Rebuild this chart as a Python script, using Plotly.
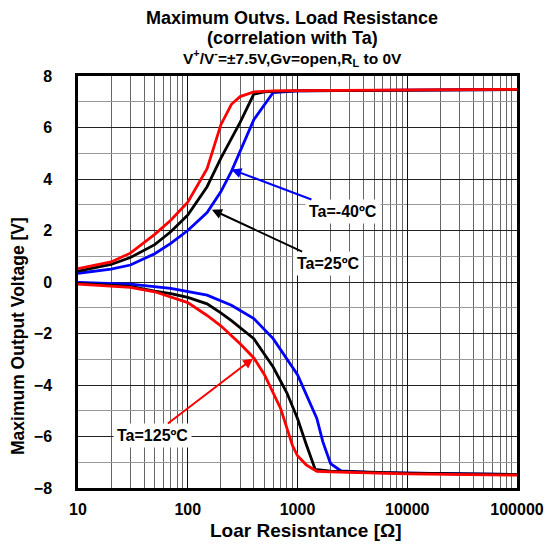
import numpy as np
import plotly.graph_objects as go

# Load resistance (ohm) and maximum output voltage (V) per ambient temperature
r_m40_hi = [10, 20, 30, 50, 70, 100, 150, 200, 250, 300, 400, 600, 1000, 10000, 100000]
v_m40_hi = [0.34, 0.5, 0.66, 1.1, 1.5, 2.0, 2.7, 3.5, 4.3, 5.1, 6.3, 7.36, 7.42, 7.45, 7.47]
r_25_hi = [10, 20, 30, 50, 70, 100, 150, 200, 300, 400, 500, 600, 1000, 10000, 100000]
v_25_hi = [0.42, 0.68, 0.95, 1.45, 1.95, 2.6, 3.7, 4.8, 6.2, 7.3, 7.38, 7.4, 7.42, 7.45, 7.47]
r_125_hi = [10, 20, 30, 50, 70, 100, 150, 200, 250, 300, 400, 600, 1000, 10000, 100000]
v_125_hi = [0.52, 0.78, 1.12, 1.85, 2.4, 3.1, 4.4, 6.1, 6.9, 7.2, 7.38, 7.42, 7.43, 7.46, 7.48]

r_m40_lo = [10, 30, 70, 150, 250, 400, 600, 1000, 1500, 1700, 2000, 2500, 5000, 100000]
v_m40_lo = [-0.02, -0.08, -0.25, -0.51, -0.9, -1.42, -2.2, -3.6, -5.3, -6.2, -7.05, -7.34, -7.4, -7.48]
r_25_lo = [10, 30, 50, 70, 100, 150, 200, 250, 400, 600, 800, 1000, 1200, 1450, 2000, 10000, 100000]
v_25_lo = [-0.05, -0.17, -0.35, -0.45, -0.6, -0.85, -1.2, -1.5, -2.2, -3.3, -4.3, -5.3, -6.3, -7.28, -7.35, -7.42, -7.48]
r_125_lo = [10, 20, 30, 50, 70, 100, 150, 200, 300, 400, 500, 700, 900, 1000, 1200, 1500, 2000, 10000, 100000]
v_125_lo = [-0.08, -0.15, -0.21, -0.38, -0.58, -0.8, -1.3, -1.7, -2.4, -2.95, -3.6, -4.9, -6.35, -6.75, -7.1, -7.35, -7.37, -7.45, -7.5]

x_ticks = [10, 100, 1000, 10000, 100000]
y_ticks = [8, 6, 4, 2, 0, -2, -4, -6, -8]

FONT = "Liberation Sans, Arial, sans-serif"

fig = go.Figure()
series = [
    (r_m40_hi, v_m40_hi, "#0000ff"), (r_m40_lo, v_m40_lo, "#0000ff"),
    (r_25_hi, v_25_hi, "#000000"), (r_25_lo, v_25_lo, "#000000"),
    (r_125_hi, v_125_hi, "#ff0000"), (r_125_lo, v_125_lo, "#ff0000"),
]
for xs, ys, col in series:
    fig.add_trace(go.Scatter(x=xs, y=ys, mode="lines",
                             line=dict(color=col, width=2.8), showlegend=False,
                             hoverinfo="skip"))

fig.update_xaxes(
    type="log", range=[1, 5], tickvals=x_ticks, ticktext=[str(v) for v in x_ticks],
    showgrid=True, gridcolor="#111111", gridwidth=1.2,
    minor=dict(showgrid=True, gridcolor="#666666", gridwidth=1, dtick="D1", ticks=""),
    showline=True, linecolor="black", linewidth=2.5, mirror=True,
    ticks="", tickfont=dict(family=FONT, size=16, color="black", weight="bold"),
    ticklabelstandoff=5, zeroline=False, automargin=False,
)
fig.update_yaxes(
    range=[-8, 8], tickvals=y_ticks, ticktext=[str(v).replace("-", "−") for v in y_ticks],
    showgrid=True, gridcolor="#222222", gridwidth=1.2,
    minor=dict(showgrid=True, gridcolor="#999999", gridwidth=1.2, dtick=1, ticks=""),
    showline=True, linecolor="black", linewidth=2.5, mirror=True,
    ticks="", tickfont=dict(family=FONT, size=16, color="black", weight="bold"),
    ticklabelstandoff=20, zeroline=False, automargin=False,
)

annots = []
# title block
title_lines = [
    ("<b>Maximum Outvs. Load Resistance</b>", 18, 18),
    ("<b>(correlation with Ta)</b>", 18, 38),
    ("<b>V<sup>+</sup>/V<sup>-</sup>=±7.5V,Gv=open,R<sub>L</sub> to 0V</b>", 15.5, 58),
]
for txt, sz, py in title_lines:
    annots.append(dict(text=txt, xref="paper", yref="paper", x=0.488, y=(488 - py) / 412,
                       showarrow=False, xanchor="center", yanchor="middle",
                       font=dict(family=FONT, size=sz, color="black")))
# axis titles
annots.append(dict(text="<b>Maximum Output Voltage [V]</b>", xref="paper", yref="paper",
                   x=(18 - 78) / 439, y=(488 - 336) / 412, textangle=-90, showarrow=False,
                   xanchor="center", yanchor="middle",
                   font=dict(family=FONT, size=17.5, color="black")))
annots.append(dict(text="<b>Loar Resisntance [Ω]</b>", xref="paper", yref="paper",
                   x=(306 - 78) / 439, y=(488 - 530) / 412, showarrow=False,
                   xanchor="center", yanchor="middle",
                   font=dict(family=FONT, size=19, color="black")))
# temperature labels with arrows
labels = [
    ("Ta=-40ºC", 250, 4.37, 112, 42, "#0000ff"),
    ("Ta=25ºC", 166, 2.81, 116, 54, "#000000"),
    ("Ta=125ºC", 394, -2.97, -101, 77, "#ff0000"),
]
for txt, r, v, axp, ayp, col in labels:
    annots.append(dict(text="<b>%s</b>" % txt, x=np.log10(r), y=v, xref="x", yref="y",
                       ax=axp, ay=ayp, showarrow=True, arrowhead=2, arrowsize=1,
                       arrowwidth=2, arrowcolor=col, bgcolor="white", borderpad=3,
                       font=dict(family=FONT, size=16, color="black")))

fig.update_layout(
    width=545, height=551, paper_bgcolor="white", plot_bgcolor="white",
    margin=dict(l=78, r=28, t=76, b=63), annotations=annots,
)
fig.write_html("out.html")
